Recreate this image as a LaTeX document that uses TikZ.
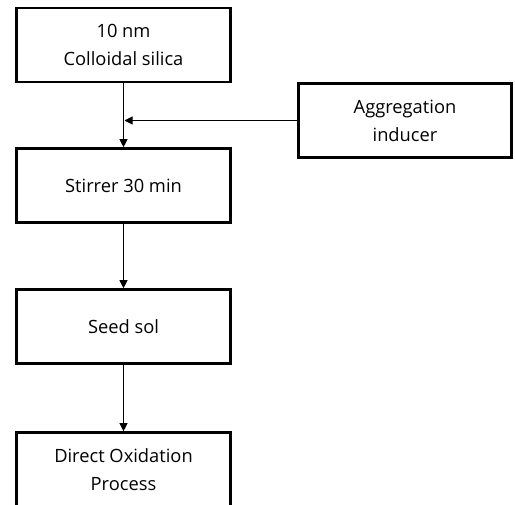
\documentclass[tikz,border=0pt]{standalone}
\usepackage{fontspec}
\setmainfont{Open Sans}
\usetikzlibrary{arrows.meta,positioning}

\begin{document}
\begin{tikzpicture}[
  stepbox/.style={draw,line width=2.6pt,minimum width=214pt,
                  minimum height=74pt,align=center,inner sep=2pt,
                  font=\fontsize{18.3}{28}\selectfont},
  arr/.style={-{Triangle[length=8pt,width=8pt]},line width=0.9pt},
  x=1pt, y=-1pt
]
\useasboundingbox (0,0) rectangle (515,505);

%% Main flow (vertical, left column)
\node[stepbox] (silica)  at (123.5, 45)    {10 nm\\Colloidal silica};
\node[stepbox] (stirrer) at (123.5, 185.5) {Stirrer 30 min};
\node[stepbox] (seed)    at (123.5, 326.5) {Seed sol};
\node[stepbox] (direct)  at (123.5, 469.5) {Direct Oxidation\\Process};

%% Side input (right)
\node[stepbox,minimum width=213pt] (inducer) at (405, 120.5)
  {Aggregation\\inducer};

%% Connectors
\coordinate (merge) at (silica.south |- inducer.west);
\draw[arr] (silica) -- (stirrer);
\draw[arr] (inducer.west) -- ([xshift=1pt]merge);
\draw[arr] (stirrer) -- (seed);
\draw[arr] (seed) -- (direct);

\end{tikzpicture}
\end{document}
